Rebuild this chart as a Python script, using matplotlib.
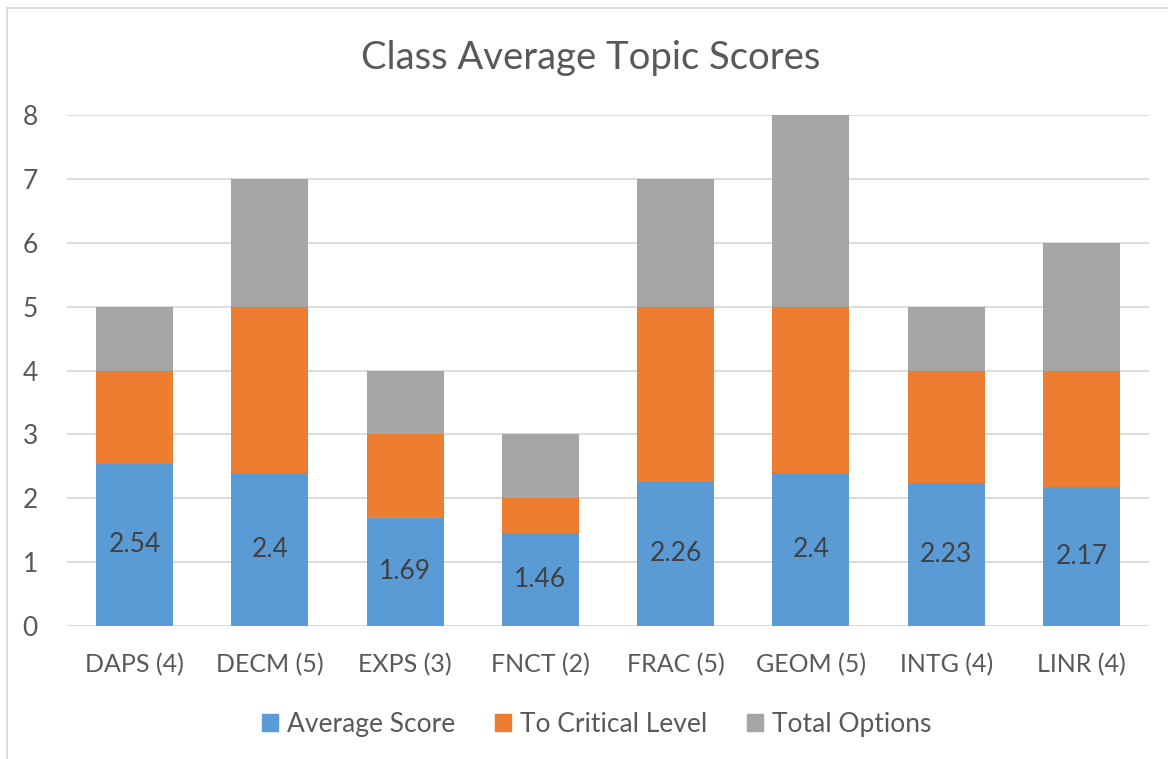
import matplotlib.pyplot as plt
import matplotlib.patches as mpatches
import numpy as np

plt.rcParams['font.family'] = ['Lato', 'DejaVu Sans']

topics = ['DAPS (4)', 'DECM (5)', 'EXPS (3)', 'FNCT (2)', 'FRAC (5)', 'GEOM (5)', 'INTG (4)', 'LINR (4)']
avg_score = [2.54, 2.4, 1.69, 1.46, 2.26, 2.4, 2.23, 2.17]
critical_level = [4, 5, 3, 2, 5, 5, 4, 4]
total_options = [5, 7, 4, 3, 7, 8, 5, 6]

avg = np.array(avg_score)
to_crit = np.array(critical_level) - avg
to_total = np.array(total_options) - np.array(critical_level)

text_col = '#595959'
fig = plt.figure(figsize=(11.68, 7.59), dpi=100)
ax = fig.add_axes([0.0574, 0.1756, 0.9264, 0.6725])

x = np.arange(len(topics))
w = 0.57
b1 = ax.bar(x, avg, w, color='#5B9BD5', label='Average Score', zorder=3)
ax.bar(x, to_crit, w, bottom=avg, color='#ED7D31', label='To Critical Level', zorder=3)
ax.bar(x, to_total, w, bottom=avg + to_crit, color='#A5A5A5', label='Total Options', zorder=3)
ax.bar_label(b1, labels=[f'{v:g}' for v in avg_score], label_type='center',
             fontsize=19, color='#404040')

ax.set_xlim(-0.5, len(topics) - 0.5)
ax.set_ylim(0, 8)
ax.set_yticks(range(9))
ax.set_xticks(x)
ax.set_xticklabels(topics)
ax.grid(axis='y', color='#D9D9D9', linewidth=1.3, zorder=0)
for s in ax.spines.values():
    s.set_visible(False)
ax.tick_params(length=0, labelsize=18, colors=text_col)
ax.tick_params(axis='y', labelsize=19, pad=21)
ax.tick_params(axis='x', pad=20)

fig.text(0.506, 0.923, 'Class Average Topic Scores', ha='center', va='center',
         fontsize=27.5, color=text_col)

handles = [mpatches.Patch(color=c) for c in ['#5B9BD5', '#ED7D31', '#A5A5A5']]
fig.legend(handles, ['Average Score', 'To Critical Level', 'Total Options'],
           loc='center', bbox_to_anchor=(0.511, 0.046), ncol=3, frameon=False,
           fontsize=19, labelcolor=text_col, handlelength=0.6, handleheight=0.6,
           handletextpad=0.35, columnspacing=1.5)

border = mpatches.Rectangle((7 / 1168, -0.1), 1.2, 0.1 + (759 - 8) / 759,
                            transform=fig.transFigure, fill=False,
                            edgecolor='#D9D9D9', linewidth=1.3)
fig.patches.append(border)

fig.savefig('out.png', dpi=100)
